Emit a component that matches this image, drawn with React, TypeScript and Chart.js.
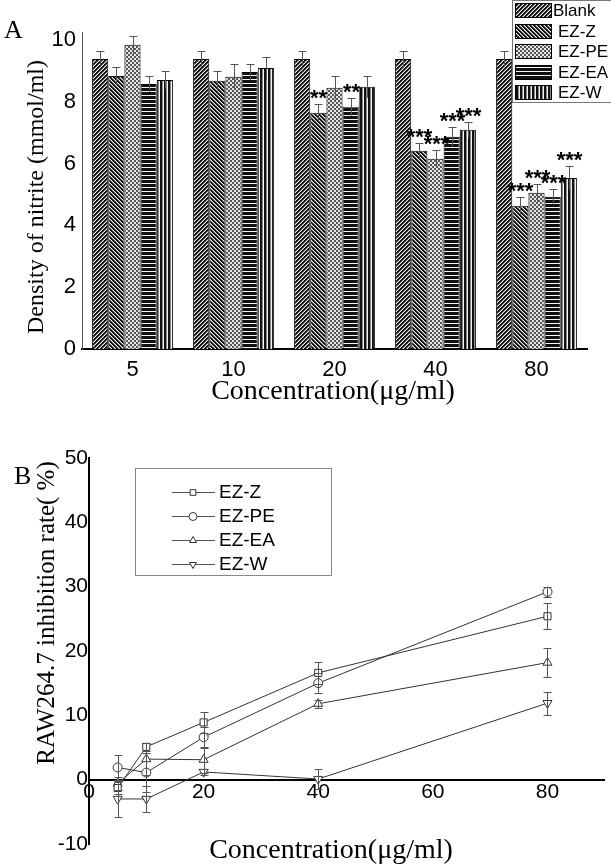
import React, { useEffect, useRef } from "react";
import { Chart, registerables } from "chart.js";
Chart.register(...registerables);

// ---------- Panel A data ----------
const concLabels = ["5", "10", "20", "40", "80"];
const seriesA = ["Blank", "EZ-Z", "EZ-PE", "EZ-EA", "EZ-W"];
const blankVals = [9.38, 9.38, 9.38, 9.38, 9.38];
const blankErr = [0.26, 0.26, 0.26, 0.26, 0.26];
const ezZVals = [8.83, 8.67, 7.64, 6.41, 4.63];
const ezZErr = [0.29, 0.32, 0.29, 0.26, 0.29];
const ezPEVals = [9.84, 8.8, 8.45, 6.15, 5.05];
const ezPEErr = [0.29, 0.43, 0.39, 0.29, 0.29];
const ezEAVals = [8.57, 8.96, 7.83, 6.86, 4.92];
const ezEAErr = [0.26, 0.26, 0.29, 0.32, 0.26];
const ezWVals = [8.7, 9.09, 8.48, 7.09, 5.53];
const ezWErr = [0.29, 0.36, 0.36, 0.26, 0.39];
const starsBlank = ["", "", "", "", ""];
const starsZ = ["", "", "**", "***", "***"];
const starsPE = ["", "", "", "***", "***"];
const starsEA = ["", "", "**", "***", "***"];
const starsW = ["", "", "", "***", "***"];
const yTicksA = [0, 2, 4, 6, 8, 10];

// ---------- Panel B data ----------
const concB = [5, 10, 20, 40, 80];
const seriesB = ["EZ-Z", "EZ-PE", "EZ-EA", "EZ-W"];
const bZ = [-1.3, 5.1, 8.9, 16.6, 25.4];
const bZErr = [1.0, 0.6, 1.6, 1.7, 2.0];
const bPE = [1.9, 1.1, 6.6, 15.0, 29.2];
const bPEErr = [2.0, 3.0, 1.6, 1.6, 0.8];
const bEA = [-0.6, 3.2, 3.1, 11.8, 18.2];
const bEAErr = [1.0, 2.5, 2.0, 0.6, 2.2];
const bW = [-3.0, -3.0, 1.2, 0.1, 11.9];
const bWErr = [2.8, 2.0, 0.5, 1.5, 1.8];
const xTicksB = [0, 20, 40, 60, 80];
const yTicksB = [-10, 0, 10, 20, 30, 40, 50];

const valsA = [blankVals, ezZVals, ezPEVals, ezEAVals, ezWVals];
const errsA = [blankErr, ezZErr, ezPEErr, ezEAErr, ezWErr];
const starsA = [starsBlank, starsZ, starsPE, starsEA, starsW];
const valsB = [bZ, bPE, bEA, bW];
const errsB = [bZErr, bPEErr, bEAErr, bWErr];
const stylesB = ["rect", "circle", "triangle", "triangle"];
const rotB = [0, 0, 0, 180];
const radB = [5, 4.5, 5.2, 5.2];

const SANS = '"Liberation Sans", Arial, sans-serif';
const SERIF = '"Liberation Serif", "Times New Roman", serif';

function makePattern(ctx: CanvasRenderingContext2D, kind: string): CanvasPattern | string {
  const t = document.createElement("canvas");
  const n = 4;
  t.width = n;
  t.height = n;
  const c = t.getContext("2d")!;
  for (let x = 0; x < n; x++) {
    for (let y = 0; y < n; y++) {
      let col = "#fff";
      if (kind === "fwd") {
        const p = (x + y) % 4;
        col = ["#111", "#111", "#777", "#eee"][p];
      } else if (kind === "back") {
        const p = (x - y + 8) % 4;
        col = ["#111", "#111", "#777", "#eee"][p];
      } else if (kind === "check") {
        const p = (Math.floor(x / 2) + Math.floor(y / 2)) % 2;
        col = p ? "#555" : "#e6e6e6";
      } else if (kind === "horiz") {
        col = y % 4 === 3 ? "#f4f4f4" : "#111";
      } else if (kind === "vert") {
        col = ["#111", "#111", "#888", "#f4f4f4"][x % 4];
      }
      c.fillStyle = col;
      c.fillRect(x, y, 1, 1);
    }
  }
  return ctx.createPattern(t, "repeat") || "#555";
}

function drawMarker(ctx: CanvasRenderingContext2D, style: string, rot: number, x: number, y: number, r: number) {
  ctx.beginPath();
  if (style === "rect") {
    const s = r * Math.SQRT1_2;
    ctx.rect(x - s, y - s, 2 * s, 2 * s);
  } else if (style === "circle") {
    ctx.arc(x, y, r, 0, Math.PI * 2);
  } else {
    const dir = rot === 180 ? 1 : -1;
    const h = r;
    ctx.moveTo(x, y + dir * h);
    ctx.lineTo(x - r * 0.866, y - dir * h * 0.5);
    ctx.lineTo(x + r * 0.866, y - dir * h * 0.5);
    ctx.closePath();
  }
  ctx.fillStyle = "#fff";
  ctx.fill();
  ctx.strokeStyle = "#333";
  ctx.lineWidth = 1;
  ctx.stroke();
}

export default function App() {
  const refA = useRef<HTMLCanvasElement>(null);
  const refB = useRef<HTMLCanvasElement>(null);

  useEffect(() => {
    const ctxA = refA.current!.getContext("2d")!;
    const kinds = ["fwd", "back", "check", "horiz", "vert"];
    const patterns = kinds.map((k) => makePattern(ctxA, k));

    const pluginA = {
      id: "panelAExtras",
      afterDatasetsDraw(chart: any) {
        const ctx = chart.ctx as CanvasRenderingContext2D;
        const ys = chart.scales.y;
        ctx.save();
        chart.data.datasets.forEach((ds: any, i: number) => {
          const meta = chart.getDatasetMeta(i);
          meta.data.forEach((bar: any, j: number) => {
            const v = ds.data[j];
            const e = errsA[i][j];
            const x = Math.round(bar.x) + 0.5;
            const yt = Math.round(ys.getPixelForValue(v + e)) + 0.5;
            const yb = ys.getPixelForValue(v - e);
            ctx.strokeStyle = "#555";
            ctx.lineWidth = 1;
            ctx.beginPath();
            ctx.moveTo(x, yt);
            ctx.lineTo(x, yb);
            ctx.moveTo(x - 4, yt);
            ctx.lineTo(x + 4, yt);
            ctx.stroke();
            const s = starsA[i][j];
            if (s) {
              ctx.fillStyle = "#000";
              ctx.font = "bold 22px " + SANS;
              ctx.textAlign = "center";
              ctx.textBaseline = "middle";
              ctx.fillText(s, x, yt - 6);
            }
          });
        });
        ctx.restore();
      },
      afterDraw(chart: any) {
        const ctx = chart.ctx as CanvasRenderingContext2D;
        ctx.save();
        ctx.fillStyle = "#000";
        ctx.font = "26px " + SERIF;
        ctx.textAlign = "left";
        ctx.textBaseline = "alphabetic";
        ctx.fillText("A", 4, 38);
        ctx.font = "28px " + SERIF;
        ctx.textAlign = "center";
        ctx.textBaseline = "middle";
        ctx.fillText("Concentration(\u03bcg/ml)", 333, 392);
        ctx.save();
        ctx.translate(37, 197);
        ctx.rotate(-Math.PI / 2);
        ctx.font = "24px " + SERIF;
        ctx.fillText("Density of nitrite (mmol/ml)", 0, 0);
        ctx.restore();
        ctx.strokeStyle = "#777";
        ctx.lineWidth = 1;
        ctx.strokeRect(512.5, 0.5, 130, 102);
        seriesA.forEach((name, i) => {
          const y = 3 + Math.round(i * 20.5);
          ctx.fillStyle = patterns[i] as any;
          ctx.fillRect(515, y, 37, 15);
          ctx.strokeStyle = "#000";
          ctx.strokeRect(515.5, y + 0.5, 36, 14);
          ctx.fillStyle = "#000";
          ctx.font = "17px " + SANS;
          ctx.textAlign = "left";
          ctx.textBaseline = "middle";
          ctx.fillText(name, i === 0 ? 553 : 558, y + 8);
        });
        ctx.restore();
      },
    };

    const chartA = new Chart(refA.current!, {
      type: "bar",
      data: {
        labels: concLabels,
        datasets: seriesA.map((name, i) => ({
          label: name,
          data: valsA[i],
          backgroundColor: patterns[i] as any,
          borderColor: "#000",
          borderWidth: 1,
          barPercentage: 1,
          categoryPercentage: 0.8,
        })),
      },
      options: {
        responsive: false,
        animation: false,
        devicePixelRatio: 1,
        layout: { padding: { left: 0, right: 24, top: 32, bottom: 0 } },
        plugins: { legend: { display: false }, tooltip: { enabled: false } },
        scales: {
          x: {
            grid: { display: false, drawTicks: false },
            border: { display: true, color: "#000", width: 2 },
            ticks: { color: "#000", font: { family: SANS, size: 22 }, padding: 8 },
            afterFit: (s: any) => {
              s.height = 71;
            },
          },
          y: {
            min: 0,
            max: 10.25,
            afterBuildTicks: (s: any) => {
              s.ticks = yTicksA.map((v) => ({ value: v }));
            },
            grid: { display: false, drawTicks: false },
            border: { display: true, color: "#555", width: 1 },
            ticks: { color: "#000", font: { family: SANS, size: 22 }, padding: 6 },
            afterFit: (s: any) => {
              s.width = 82;
            },
          },
        },
      },
      plugins: [pluginA],
    } as any);

    const pluginB = {
      id: "panelBExtras",
      afterDatasetsDraw(chart: any) {
        const ctx = chart.ctx as CanvasRenderingContext2D;
        const xs = chart.scales.x;
        const ys = chart.scales.y;
        ctx.save();
        ctx.strokeStyle = "#555";
        ctx.lineWidth = 1;
        valsB.forEach((vals, i) => {
          vals.forEach((v, j) => {
            const e = errsB[i][j];
            const x = Math.round(xs.getPixelForValue(concB[j])) + 0.5;
            const yt = Math.round(ys.getPixelForValue(v + e)) + 0.5;
            const yb = Math.round(ys.getPixelForValue(v - e)) + 0.5;
            ctx.beginPath();
            ctx.moveTo(x, yt);
            ctx.lineTo(x, yb);
            ctx.moveTo(x - 4, yt);
            ctx.lineTo(x + 4, yt);
            ctx.moveTo(x - 4, yb);
            ctx.lineTo(x + 4, yb);
            ctx.stroke();
          });
        });
        ctx.restore();
      },
      afterDraw(chart: any) {
        const ctx = chart.ctx as CanvasRenderingContext2D;
        ctx.save();
        ctx.fillStyle = "#000";
        ctx.font = "26px " + SERIF;
        ctx.textAlign = "left";
        ctx.textBaseline = "alphabetic";
        ctx.fillText("B", 14, 64);
        ctx.font = "28px " + SERIF;
        ctx.textAlign = "center";
        ctx.textBaseline = "middle";
        ctx.fillText("Concentration(\u03bcg/ml)", 331, 431);
        ctx.save();
        ctx.translate(47, 193);
        ctx.rotate(-Math.PI / 2);
        ctx.font = "25px " + SERIF;
        ctx.fillText("RAW264.7 inhibition rate( %)", 0, 0);
        ctx.restore();
        ctx.strokeStyle = "#888";
        ctx.lineWidth = 1;
        ctx.strokeRect(135.5, 48.5, 196, 107);
        seriesB.forEach((name, i) => {
          const y = 72 + i * 24;
          ctx.strokeStyle = "#555";
          ctx.beginPath();
          ctx.moveTo(172, y + 0.5);
          ctx.lineTo(215, y + 0.5);
          ctx.stroke();
          drawMarker(ctx, stylesB[i], rotB[i], 193, y + 0.5, 4);
          ctx.fillStyle = "#000";
          ctx.font = "19px " + SANS;
          ctx.textAlign = "left";
          ctx.textBaseline = "middle";
          ctx.fillText(name, 219, y + 1);
        });
        ctx.restore();
      },
    };

    const chartB = new Chart(refB.current!, {
      type: "line",
      data: {
        datasets: seriesB.map((name, i) => ({
          label: name,
          data: concB.map((x, j) => ({ x, y: valsB[i][j] })),
          borderColor: "#333",
          borderWidth: 1,
          pointStyle: stylesB[i],
          pointRotation: rotB[i],
          pointRadius: radB[i],
          pointBackgroundColor: "#fff",
          pointBorderColor: "#333",
          pointBorderWidth: 1,
          tension: 0,
          fill: false,
        })),
      },
      options: {
        responsive: false,
        animation: false,
        devicePixelRatio: 1,
        layout: { padding: { left: 0, right: 0, top: 38, bottom: 20 } },
        plugins: { legend: { display: false }, tooltip: { enabled: false } },
        scales: {
          x: {
            type: "linear",
            min: 0,
            max: 90,
            position: { y: 0 },
            afterBuildTicks: (s: any) => {
              s.ticks = xTicksB.map((v) => ({ value: v }));
            },
            grid: { display: false, drawTicks: false },
            border: { display: true, color: "#000", width: 2 },
            ticks: { color: "#000", font: { family: SANS, size: 21 }, padding: 0 },
          },
          y: {
            min: -10,
            max: 50,
            afterBuildTicks: (s: any) => {
              s.ticks = yTicksB.map((v) => ({ value: v }));
            },
            grid: { display: false, drawTicks: false },
            border: { display: true, color: "#000", width: 2 },
            ticks: { color: "#000", font: { family: SANS, size: 21 }, padding: 1 },
            afterFit: (s: any) => {
              s.width = 89;
            },
          },
        },
      },
      plugins: [pluginB],
    } as any);

    return () => {
      chartA.destroy();
      chartB.destroy();
    };
  }, []);

  return (
    <div style={{ position: "fixed", left: 0, top: 0, width: 611, height: 864, background: "#fff" }}>
      <canvas ref={refA} width={611} height={420} style={{ position: "absolute", left: 0, top: 0, display: "block" }} />
      <canvas ref={refB} width={611} height={444} style={{ position: "absolute", left: 0, top: 420, display: "block" }} />
    </div>
  );
}
